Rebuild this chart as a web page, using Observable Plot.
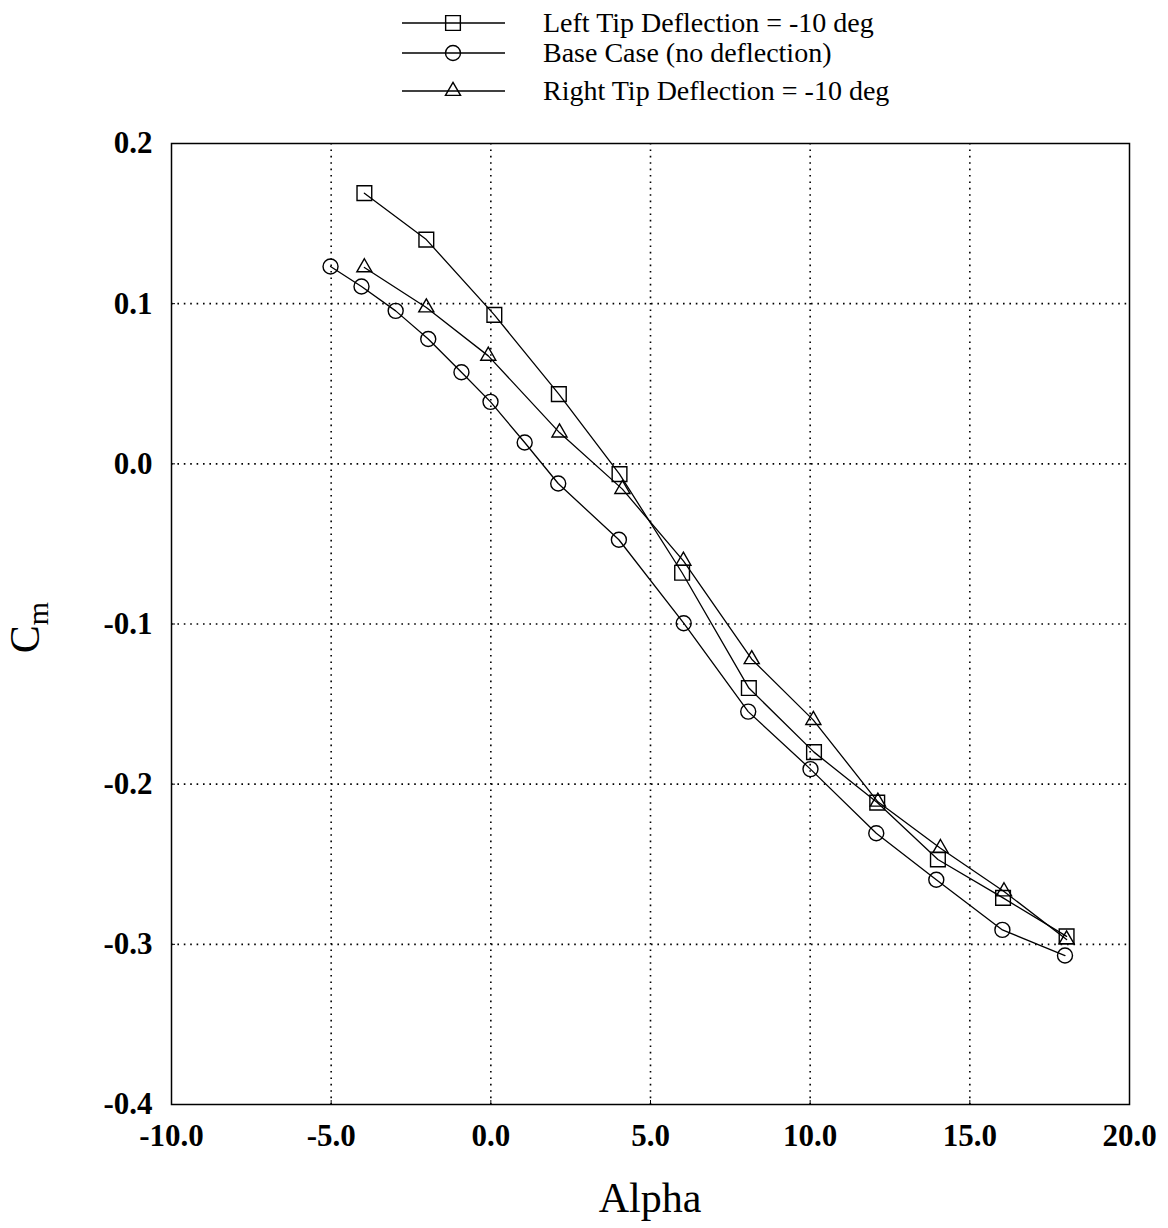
<!DOCTYPE html>
<html><head><meta charset="utf-8">
<script src="https://cdn.jsdelivr.net/npm/d3@7"></script>
<script src="https://cdn.jsdelivr.net/npm/@observablehq/plot@0.6"></script>
<style>
body{margin:0;background:#fff;}
#wrap{position:relative;width:1168px;height:1228px;}
#legend{position:absolute;left:0;top:0;width:1168px;height:110px;}
.lrow{position:absolute;left:402px;height:30px;}
.lrow svg{position:absolute;left:0;top:0;}
.lrow span{position:absolute;left:141px;top:0;line-height:30px;white-space:nowrap;font-family:"Liberation Serif",serif;font-size:28px;color:#000;}
</style></head><body>
<div id="wrap"><div id="chart"></div><div id="legend"></div></div>
<script>
// ---- data ----
const seriesNames = ["Left Tip Deflection = -10 deg", "Base Case (no deflection)", "Right Tip Deflection = -10 deg"];
const alphaLeft = [-3.96, -2.02, 0.11, 2.13, 4.03, 5.99, 8.08, 10.12, 12.10, 14.0, 16.04, 18.03];
const cmLeft    = [0.169, 0.140, 0.093, 0.0435, -0.0064, -0.068, -0.140, -0.180, -0.2115, -0.247, -0.271, -0.295];
const alphaBase = [-5.02, -4.05, -2.98, -1.96, -0.92, -0.01, 1.06, 2.11, 4.01, 6.04, 8.06, 10.01, 12.07, 13.95, 16.02, 17.98];
const cmBase    = [0.1232, 0.1107, 0.0955, 0.0779, 0.0572, 0.0387, 0.0133, -0.0123, -0.0474, -0.0995, -0.1547, -0.1906, -0.2306, -0.2597, -0.291, -0.307];
const alphaRight = [-3.96, -2.02, -0.08, 2.15, 4.12, 6.03, 8.17, 10.1, 12.12, 14.08, 16.07, 18.03];
const cmRight    = [0.1226, 0.0976, 0.0674, 0.0195, -0.0158, -0.0606, -0.122, -0.160, -0.211, -0.240, -0.267, -0.297];
const xTicks = [-10, -5, 0, 5, 10, 15, 20];
const yTicks = [-0.4, -0.3, -0.2, -0.1, 0.0, 0.1, 0.2];
const xGrid = [-5, 0, 5, 10, 15];
const yGrid = [-0.3, -0.2, -0.1, 0.0, 0.1];

const mk = (xs, ys) => xs.map((x, i) => ({x, y: ys[i]}));
const left = mk(alphaLeft, cmLeft);
const base = mk(alphaBase, cmBase);
const right = mk(alphaRight, cmRight);

const fmt = d => (Math.abs(d) < 1e-9 ? 0 : d).toFixed(1);

const plot = Plot.plot({
  width: 1168,
  height: 1228,
  marginTop: 143,
  marginLeft: 171,
  marginRight: 39,
  marginBottom: 124,
  style: {fontFamily: "Liberation Serif, serif", fontWeight: "bold", fontSize: "31px", color: "#000", background: "#fff"},
  x: {domain: [-10, 20]},
  y: {domain: [-0.4, 0.2]},
  marks: [
    Plot.gridX(xGrid, {stroke: "#000", strokeOpacity: 1, strokeWidth: 1.6, strokeDasharray: "1.6,4.8"}),
    Plot.gridY(yGrid, {stroke: "#000", strokeOpacity: 1, strokeWidth: 1.6, strokeDasharray: "1.6,4.8"}),
    Plot.tickX(xTicks, {x: d => d, stroke: "#000", insetTop: 957}),
    Plot.tickY(yTicks, {y: d => d, stroke: "#000", insetRight: 954}),
    Plot.axisX(xTicks, {tickSize: 0, tickPadding: 19, tickFormat: fmt, label: null, fontWeight: "bold", fontSize: 31}),
    Plot.axisY(yTicks, {tickSize: 0, tickPadding: 19, tickFormat: fmt, label: null, fontWeight: "bold", fontSize: 31}),
    Plot.frame({stroke: "#000", strokeWidth: 1.5}),
    Plot.line(left, {x: "x", y: "y", stroke: "#000", strokeWidth: 1.3}),
    Plot.line(base, {x: "x", y: "y", stroke: "#000", strokeWidth: 1.3}),
    Plot.line(right, {x: "x", y: "y", stroke: "#000", strokeWidth: 1.3}),
    Plot.dot(left, {x: "x", y: "y", symbol: "square", r: 8.3, stroke: "#000", fill: "none", strokeWidth: 1.4}),
    Plot.dot(base, {x: "x", y: "y", symbol: "circle", r: 7.5, stroke: "#000", fill: "none", strokeWidth: 1.4}),
    Plot.dot(right, {x: "x", y: "y", symbol: "triangle", r: 5.6, stroke: "#000", fill: "none", strokeWidth: 1.4})
  ]
});
document.getElementById("chart").appendChild(plot);

// axis titles
const sx = plot.scale("x"), sy = plot.scale("y");
const svg = d3.select(plot);
const xc = (sx.range[0] + sx.range[1]) / 2;
const yc = (sy.range[0] + sy.range[1]) / 2;
svg.append("text")
  .attr("x", xc).attr("y", 1212)
  .attr("text-anchor", "middle")
  .attr("font-family", "Liberation Serif, serif")
  .attr("font-weight", "normal")
  .attr("font-size", 42)
  .attr("fill", "#000")
  .text("Alpha");
const yl = svg.append("text")
  .attr("transform", `translate(39,${yc + 4}) rotate(-90)`)
  .attr("text-anchor", "middle")
  .attr("font-family", "Liberation Serif, serif")
  .attr("font-weight", "normal")
  .attr("font-size", 42)
  .attr("fill", "#000");
yl.append("tspan").text("C");
yl.append("tspan").attr("dy", 9).attr("font-size", 30).text("m");

// legend
const legendY = [23, 53, 91];
const symTypes = [d3.symbolSquare, d3.symbolCircle, d3.symbolTriangle];
const symSizes = [8.3, 7.5, 5.6].map(r => Math.PI * r * r);
const leg = d3.select("#legend");
seriesNames.forEach((name, i) => {
  const row = leg.append("div").attr("class", "lrow").style("top", (legendY[i] - 15) + "px").style("width", "600px");
  const s = row.append("svg").attr("width", 104).attr("height", 30);
  s.append("line").attr("x1", 0).attr("x2", 103).attr("y1", 15).attr("y2", 15).attr("stroke", "#000").attr("stroke-width", 1.4);
  s.append("path").attr("d", d3.symbol(symTypes[i], symSizes[i])()).attr("transform", "translate(51,15)")
    .attr("fill", "none").attr("stroke", "#000").attr("stroke-width", 1.4);
  row.append("span").text(name);
});
</script>
</body></html>
